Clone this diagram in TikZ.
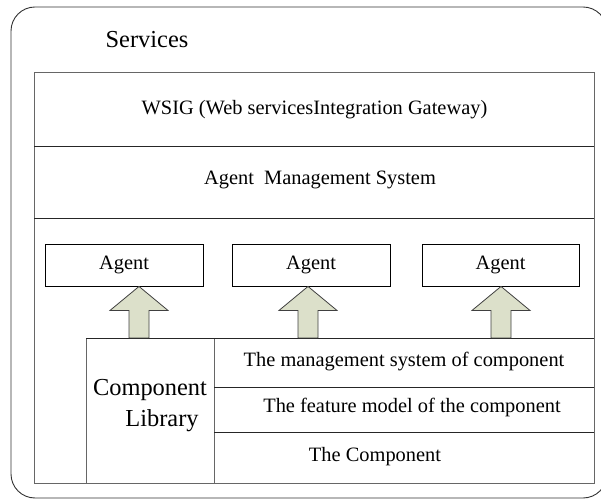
\documentclass[tikz,border=0pt]{standalone}
\usepackage{fontspec}
\setmainfont{Liberation Serif}
\usetikzlibrary{calc}
\definecolor{arrowfill}{HTML}{DCE0CA}
\definecolor{framegray}{HTML}{666666}
\begin{document}
\begin{tikzpicture}[x=1pt,y=1pt,
  txt/.style={inner sep=0pt,font=\fontsize{20.4}{24}\selectfont},
  bigtxt/.style={inner sep=0pt,font=\fontsize{24.4}{28}\selectfont},
  agentbox/.style={draw=black,line width=0.9pt,minimum width=158pt,minimum height=42pt,inner sep=0pt,font=\fontsize{20.4}{24}\selectfont},
  blockarrow/.style={draw=black!75,fill=arrowfill,line width=0.8pt,line join=miter},
  frame/.style={draw=framegray,line width=0.9pt}]
\useasboundingbox (0,0) rectangle (601,500);
% outer rounded frame
\draw[draw=black!80,line width=0.9pt,rounded corners=24pt] (11,2) rectangle (607,493);
\node[bigtxt] (services) at (147,460) {Services};
% inner frame
\draw[frame] (34,17) rectangle (594,428);
\coordinate (l1w) at (34,354); \coordinate (l1e) at (594,354);
\coordinate (l2w) at (34,282); \coordinate (l2e) at (594,282);
\draw[frame,draw=black!85] (l1w) -- (l1e);
\draw[frame,draw=black!85] (l2w) -- (l2e);
\node[txt] (wsig) at (314.5,390) {WSIG (Web servicesIntegration Gateway)};
\node[txt] (ams) at (320,320) {Agent\ \ Management System};
% agents
\node[agentbox] (a1) at (124,235) {Agent};
\node[agentbox] (a2) at (311,235) {Agent};
\node[agentbox,minimum width=157pt] (a3) at (500.5,235) {Agent};
% component library
\draw[frame,fill=white] (86,17) rectangle (594,162);
\coordinate (libtop) at (86,162);
\draw[frame] (214,17) -- (214,162);
\draw[frame,draw=black!85] (214,113) -- (594,113);
\draw[frame,draw=black!85] (214,68) -- (594,68);
\draw[frame,draw=black!85] (86,162) -- (594,162);
\node[bigtxt,anchor=base] (comp) at (150,104) {Component};
\node[bigtxt,anchor=base] (lib) at (162,74) {Library};
\node[txt] (mgmt) at (404,138) {The management system of component};
\node[txt] (feat) at (412,93) {The feature model of the component};
\node[txt] (thecomp) at (375,43) {The Component};
% block arrows
\foreach \a/\dx in {a1/15,a2/-3,a3/0.5}{
  \draw[blockarrow]
    let \p1=($(\a.south)+(\dx,0)$), \p2=(libtop) in
    (\x1,\y1) -- (\x1+29,\y1-24) -- (\x1+10,\y1-24) -- (\x1+10,\y2)
    -- (\x1-10,\y2) -- (\x1-10,\y1-24) -- (\x1-29,\y1-24) -- cycle;
}
\end{tikzpicture}
\end{document}
